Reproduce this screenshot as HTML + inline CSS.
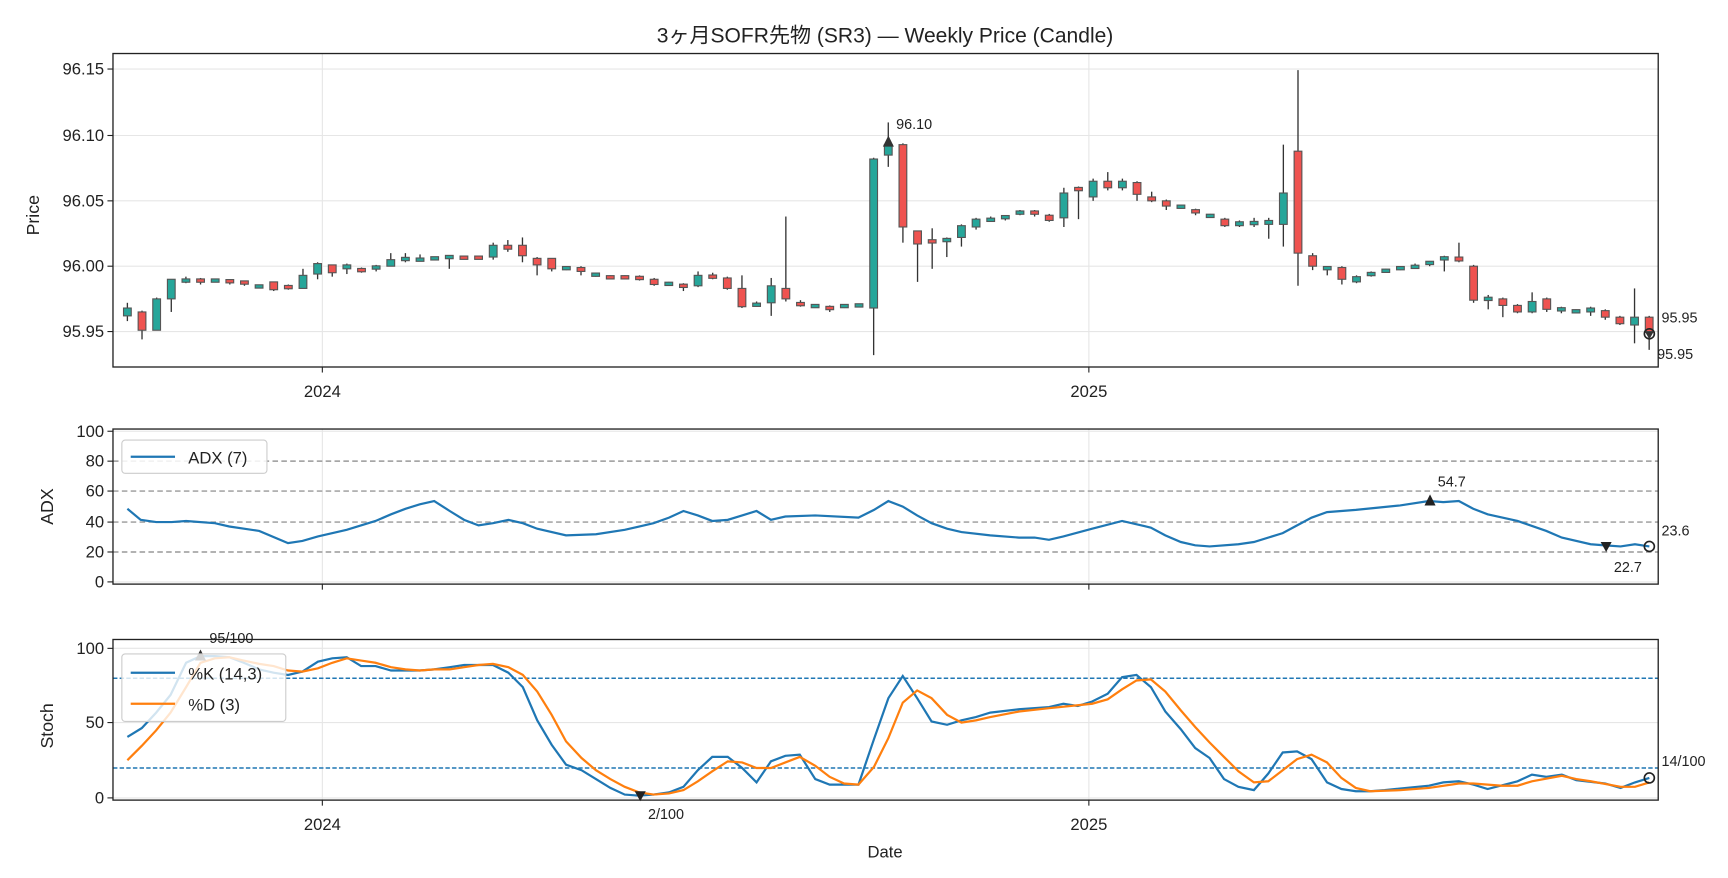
<!DOCTYPE html>
<html><head><meta charset="utf-8"><style>
html,body{margin:0;padding:0;background:#fff}
svg{display:block}
text{font-family:"Liberation Sans","Noto Sans CJK JP",sans-serif;fill:#222}
</style></head><body>
<svg id="s" width="1728" height="878" viewBox="0 0 1560 792" xmlns="http://www.w3.org/2000/svg">
<rect width="1560" height="792" fill="#fff"/>
<text x="799" y="38" font-size="19" text-anchor="middle">3ヶ月SOFR先物 (SR3) — Weekly Price (Candle)</text>
<g stroke="#e6e6e6" stroke-width="1">
<line x1="102" x2="1497" y1="62" y2="62"/><line x1="102" x2="1497" y1="122" y2="122"/><line x1="102" x2="1497" y1="181" y2="181"/><line x1="102" x2="1497" y1="240" y2="240"/><line x1="102" x2="1497" y1="299" y2="299"/>
<line x1="291" x2="291" y1="48" y2="331"/><line x1="983" x2="983" y1="48" y2="331"/>
<line x1="102" x2="1497" y1="389" y2="389"/><line x1="102" x2="1497" y1="525" y2="525"/>
<line x1="291" x2="291" y1="387" y2="527"/><line x1="983" x2="983" y1="387" y2="527"/>
<line x1="102" x2="1497" y1="585" y2="585"/><line x1="102" x2="1497" y1="652" y2="652"/><line x1="102" x2="1497" y1="720" y2="720"/>
<line x1="291" x2="291" y1="577" y2="722"/><line x1="983" x2="983" y1="577" y2="722"/>
</g>
<g stroke="#999" stroke-width="1.3" stroke-dasharray="5,3">
<line x1="102" x2="1497" y1="416" y2="416"/><line x1="102" x2="1497" y1="443" y2="443"/><line x1="102" x2="1497" y1="471" y2="471"/><line x1="102" x2="1497" y1="498" y2="498"/>
</g>
<g stroke="#1f77b4" stroke-width="1.3" stroke-dasharray="4,2">
<line x1="102" x2="1497" y1="612" y2="612"/><line x1="102" x2="1497" y1="693" y2="693"/>
</g>
<g id="candles"></g>
<polyline fill="none" stroke="#1f77b4" stroke-width="2" points="115,459 127,469 141,471 155,471 168,470 194,472 207,475 234,479 260,490 273,488 287,484 313,478 339,470 353,464 366,459 379,455 392,452 406,461 419,469 432,474 445,472 459,469 472,472 485,477 511,483 538,482 564,478 590,472 604,467 617,461 630,465 643,470 657,469 670,465 683,461 696,469 709,466 736,465 775,467 789,460 802,452 815,457 828,465 841,472 855,477 868,480 894,483 920,485 934,485 947,487 960,484 986,477 1013,470 1039,476 1052,483 1066,489 1079,492 1092,493 1118,491 1132,489 1158,481 1171,474 1184,467 1198,462 1224,460 1264,456 1290,452 1303,453 1317,452 1330,459 1343,464 1370,470 1396,479 1410,485 1436,491 1449,492 1463,493 1476,491 1489,493"/>
<polyline fill="none" stroke="#1f77b4" stroke-width="2" points="115,665 128,657 141,643 154,627 168,598 181,592 194,592 207,593 220,598 234,604 247,607 260,609 273,606 287,597 300,594 313,593 326,601 339,601 353,605 366,605 379,605 392,604 406,602 419,600 432,600 445,600 459,607 472,620 485,650 498,672 511,690 525,695 538,703 551,711 564,717 577,718 590,717 604,715 617,710 630,695 643,683 657,683 670,693 683,706 696,687 709,682 722,681 736,703 749,708 762,708 775,708 789,667 802,630 815,610 828,630 841,651 855,654 868,650 881,647 894,643 920,640 947,638 960,635 973,637 986,633 1000,626 1013,611 1026,609 1039,620 1052,642 1066,658 1079,675 1092,684 1105,703 1118,710 1132,713 1145,698 1158,679 1171,678 1184,685 1198,706 1211,712 1224,714 1237,714 1250,713 1290,709 1303,706 1317,705 1330,708 1343,712 1370,705 1383,699 1396,701 1410,699 1423,704 1449,707 1463,711 1476,706 1489,702"/>
<polyline fill="none" stroke="#ff7f0e" stroke-width="2" points="115,686 128,673 141,659 154,643 168,620 181,598 194,594 207,593 220,596 234,599 247,601 260,605 273,606 287,603 300,598 313,594 326,596 339,598 353,602 366,604 379,605 392,604 406,604 419,602 432,600 445,599 459,602 472,609 485,624 498,645 511,669 525,684 538,695 551,703 564,710 577,715 590,717 604,716 617,713 630,705 643,696 657,687 670,688 683,693 696,693 709,688 722,683 736,691 749,701 762,707 775,708 789,692 802,666 815,634 828,623 841,630 855,645 868,652 881,650 894,647 920,642 947,639 986,635 1000,631 1013,622 1026,614 1039,613 1052,624 1066,641 1079,656 1092,670 1105,683 1118,696 1132,706 1145,705 1158,695 1171,685 1184,681 1198,688 1211,702 1224,711 1237,714 1264,713 1290,711 1317,707 1330,707 1356,709 1370,709 1383,705 1410,700 1423,703 1436,705 1463,710 1476,710 1489,706"/>
<!-- markers -->
<path d="M802,122 l-5,10 h10z" fill="#333"/>
<text x="809" y="116" font-size="13" fill="#555">96.10</text>
<circle cx="1489" cy="301" r="4.5" fill="none" stroke="#222" stroke-width="1.5"/>
<path d="M1489,306 l-4,-7 h8z" fill="#333"/>
<text x="1500" y="291" font-size="13" fill="#555">95.95</text>
<text x="1496" y="324" font-size="13" fill="#555">95.95</text>
<path d="M1291,446 l-5,10 h10z" fill="#222"/>
<text x="1298" y="439" font-size="13" fill="#555">54.7</text>
<path d="M1450,498 l-5,-9 h10z" fill="#222"/>
<text x="1457" y="516" font-size="13" fill="#555">22.7</text>
<circle cx="1489" cy="493" r="4.5" fill="none" stroke="#222" stroke-width="1.5"/>
<text x="1500" y="483" font-size="13" fill="#555">23.6</text>
<path d="M181,586 l-5,10 h10z" fill="#333"/>
<text x="189" y="580" font-size="13" fill="#555">95/100</text>
<path d="M578,723 l-5,-9 h10z" fill="#222"/>
<text x="585" y="739" font-size="13" fill="#555">2/100</text>
<circle cx="1489" cy="702" r="4.5" fill="none" stroke="#222" stroke-width="1.5"/>
<text x="1500" y="691" font-size="13" fill="#555">14/100</text>
<!-- axes frames -->
<g fill="none" stroke="#222" stroke-width="1.2">
<rect x="102" y="48" width="1395" height="283"/>
<rect x="102" y="387" width="1395" height="140"/>
<rect x="102" y="577" width="1395" height="145"/>
</g>
<g stroke="#222" stroke-width="1">
<line x1="97" x2="102" y1="62" y2="62"/><line x1="97" x2="102" y1="122" y2="122"/><line x1="97" x2="102" y1="181" y2="181"/><line x1="97" x2="102" y1="240" y2="240"/><line x1="97" x2="102" y1="299" y2="299"/>
<line x1="291" x2="291" y1="331" y2="336"/><line x1="983" x2="983" y1="331" y2="336"/>
<line x1="97" x2="102" y1="389" y2="389"/><line x1="97" x2="102" y1="416" y2="416"/><line x1="97" x2="102" y1="443" y2="443"/><line x1="97" x2="102" y1="471" y2="471"/><line x1="97" x2="102" y1="498" y2="498"/><line x1="97" x2="102" y1="525" y2="525"/>
<line x1="291" x2="291" y1="527" y2="532"/><line x1="983" x2="983" y1="527" y2="532"/>
<line x1="97" x2="102" y1="585" y2="585"/><line x1="97" x2="102" y1="652" y2="652"/><line x1="97" x2="102" y1="720" y2="720"/>
<line x1="291" x2="291" y1="722" y2="727"/><line x1="983" x2="983" y1="722" y2="727"/>
</g>
<g font-size="15" text-anchor="end">
<text x="94" y="67">96.15</text><text x="94" y="127">96.10</text><text x="94" y="186">96.05</text><text x="94" y="245">96.00</text><text x="94" y="304">95.95</text>
<text x="94" y="394">100</text><text x="94" y="421">80</text><text x="94" y="448">60</text><text x="94" y="476">40</text><text x="94" y="503">20</text><text x="94" y="530">0</text>
<text x="94" y="590">100</text><text x="94" y="657">50</text><text x="94" y="725">0</text>
</g>
<g font-size="15" text-anchor="middle">
<text x="291" y="358">2024</text><text x="983" y="358">2025</text>
<text x="291" y="749">2024</text><text x="983" y="749">2025</text>
<text x="799" y="774">Date</text>
</g>
<text font-size="16" transform="translate(35,194) rotate(-90)" text-anchor="middle">Price</text>
<text font-size="16" transform="translate(48,457) rotate(-90)" text-anchor="middle">ADX</text>
<text font-size="16" transform="translate(48,655) rotate(-90)" text-anchor="middle">Stoch</text>
<!-- legends -->
<rect x="110" y="397" width="131" height="30" rx="3" fill="#fff" fill-opacity="0.85" stroke="#ccc"/>
<line x1="118" x2="158" y1="412" y2="412" stroke="#1f77b4" stroke-width="2"/>
<text x="170" y="418" font-size="15">ADX (7)</text>
<rect x="110" y="590" width="148" height="61" rx="3" fill="#fff" fill-opacity="0.8" stroke="#ccc"/>
<line x1="118" x2="158" y1="607" y2="607" stroke="#1f77b4" stroke-width="2"/>
<text x="170" y="613" font-size="15">%K (14,3)</text>
<line x1="118" x2="158" y1="635" y2="635" stroke="#ff7f0e" stroke-width="2"/>
<text x="170" y="641" font-size="15">%D (3)</text>
</svg>
<script>
var D=[[95.962,95.968,95.972,95.958],[95.965,95.951,95.966,95.944],[95.951,95.975,95.976,95.951],[95.975,95.99,95.99,95.965],[95.988,95.99,95.992,95.987],[95.99,95.988,95.991,95.986],[95.989,95.989,95.99,95.988],[95.989,95.988,95.99,95.986],[95.988,95.987,95.989,95.985],[95.984,95.985,95.986,95.984],[95.988,95.982,95.988,95.981],[95.985,95.983,95.986,95.982],[95.983,95.993,95.998,95.983],[95.994,96.002,96.003,95.99],[96.001,95.995,96.001,95.992],[95.998,96.001,96.002,95.994],[95.998,95.996,95.999,95.995],[95.998,96.0,96.001,95.996],[96.0,96.005,96.01,96.0],[96.005,96.006,96.01,96.003],[96.005,96.005,96.009,96.004],[96.006,96.006,96.007,96.005],[96.007,96.007,96.008,95.998],[96.007,96.006,96.008,96.006],[96.007,96.006,96.008,96.006],[96.007,96.016,96.018,96.005],[96.016,96.013,96.02,96.011],[96.016,96.008,96.022,96.003],[96.006,96.001,96.007,95.993],[96.006,95.998,96.006,95.996],[95.998,95.999,96.0,95.997],[95.999,95.996,96.0,95.993],[95.993,95.994,95.995,95.992],[95.992,95.991,95.993,95.99],[95.992,95.991,95.993,95.99],[95.992,95.99,95.993,95.989],[95.99,95.986,95.991,95.985],[95.986,95.987,95.988,95.985],[95.986,95.984,95.987,95.981],[95.985,95.993,95.996,95.984],[95.993,95.991,95.995,95.99],[95.991,95.983,95.992,95.982],[95.983,95.969,95.993,95.968],[95.97,95.971,95.973,95.969],[95.972,95.985,95.991,95.962],[95.983,95.975,96.038,95.973],[95.972,95.97,95.974,95.969],[95.969,95.97,95.971,95.968],[95.969,95.967,95.97,95.965],[95.969,95.97,95.971,95.968],[95.97,95.97,95.971,95.969],[95.968,96.082,96.083,95.932],[96.085,96.093,96.11,96.076],[96.093,96.03,96.094,96.018],[96.027,96.017,96.027,95.988],[96.02,96.018,96.029,95.998],[96.019,96.021,96.022,96.007],[96.022,96.031,96.032,96.015],[96.03,96.036,96.037,96.028],[96.035,96.036,96.038,96.034],[96.037,96.038,96.039,96.035],[96.04,96.042,96.043,96.039],[96.042,96.04,96.043,96.038],[96.039,96.035,96.04,96.034],[96.037,96.056,96.06,96.03],[96.06,96.058,96.061,96.036],[96.053,96.065,96.067,96.05],[96.065,96.06,96.072,96.058],[96.06,96.065,96.067,96.058],[96.064,96.055,96.065,96.05],[96.053,96.05,96.057,96.049],[96.05,96.046,96.051,96.043],[96.045,96.046,96.047,96.044],[96.043,96.041,96.044,96.039],[96.038,96.039,96.04,96.037],[96.036,96.031,96.037,96.03],[96.031,96.034,96.035,96.03],[96.033,96.033,96.037,96.03],[96.032,96.035,96.037,96.021],[96.032,96.056,96.093,96.015],[96.088,96.01,96.15,95.985],[96.008,96.0,96.01,95.997],[95.998,95.999,96.0,95.993],[95.999,95.99,96.0,95.986],[95.988,95.992,95.993,95.987],[95.993,95.995,95.996,95.992],[95.996,95.997,95.998,95.995],[95.998,95.999,96.0,95.997],[95.999,96.0,96.002,95.998],[96.002,96.003,96.004,96.0],[96.005,96.007,96.008,95.996],[96.007,96.004,96.018,96.003],[96.0,95.974,96.001,95.972],[95.974,95.976,95.978,95.967],[95.975,95.97,95.976,95.961],[95.97,95.965,95.971,95.964],[95.965,95.973,95.98,95.964],[95.975,95.967,95.976,95.965],[95.966,95.968,95.969,95.964],[95.965,95.966,95.967,95.964],[95.965,95.968,95.969,95.962],[95.966,95.961,95.967,95.959],[95.961,95.956,95.962,95.955],[95.955,95.961,95.983,95.941],[95.961,95.95,95.962,95.936]];
var g=document.getElementById('candles'),h='';
function Y(p){return 240-(p-96)*1180;}
for(var i=0;i<D.length;i++){var d=D[i],x=115+i*13.21,o=Y(d[0]),c=Y(d[1]),hi=Y(d[2]),lo=Y(d[3]);
var up=d[1]>=d[0],t=Math.min(o,c),b=Math.max(o,c);if(b-t<2.5){var m=(t+b)/2;t=m-1.5;b=m+1.5;}
h+='<line x1="'+x+'" x2="'+x+'" y1="'+hi+'" y2="'+lo+'" stroke="#333" stroke-width="1.2"/>';
h+='<rect x="'+(x-3.5)+'" y="'+t+'" width="7" height="'+(b-t)+'" fill="'+(up?'#26a69a':'#ef5350')+'" stroke="#555" stroke-width="1"/>';}
g.innerHTML=h;
</script>
</body></html>
